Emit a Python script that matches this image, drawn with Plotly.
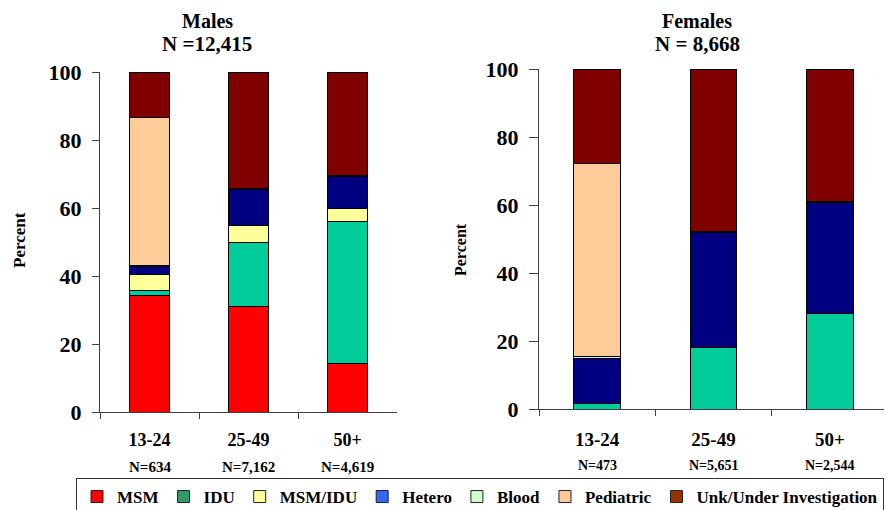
import plotly.graph_objects as go

categories = ["13-24", "25-49", "50+"]
male_n = ["N=634", "N=7,162", "N=4,619"]
female_n = ["N=473", "N=5,651", "N=2,544"]
groups = ["MSM", "IDU", "MSM/IDU", "Hetero", "Blood", "Pediatric", "Unk/Under Investigation"]

male_msm = [34.4, 31.1, 14.4]
male_idu = [1.2, 18.9, 41.5]
male_msm_idu = [4.8, 4.9, 4.1]
male_hetero = [2.5, 10.5, 9.3]
male_blood = [0.3, 0.4, 0.2]
male_pediatric = [43.3, 0.0, 0.0]
male_unk = [13.5, 34.2, 30.5]

female_msm = [0.0, 0.0, 0.0]
female_idu = [1.5, 18.2, 28.2]
female_msm_idu = [0.0, 0.0, 0.0]
female_hetero = [13.5, 33.6, 32.6]
female_blood = [0.4, 0.4, 0.3]
female_pediatric = [56.8, 0.0, 0.0]
female_unk = [27.8, 47.8, 38.9]

bar_colors = ["#FF0000", "#00CC99", "#FFFF99", "#000080", "#CCFFCC", "#FFCC99", "#800000"]
legend_colors = ["#FF0000", "#339966", "#FFFF99", "#3366FF", "#CCFFCC", "#FFCC99", "#993300"]

male_series = [male_msm, male_idu, male_msm_idu, male_hetero, male_blood, male_pediatric, male_unk]
female_series = [female_msm, female_idu, female_msm_idu, female_hetero, female_blood, female_pediatric, female_unk]

FONT = "Liberation Serif"
W, H = 892, 510
OFF = 8  # page body margin offset


def px_x(x):
    return (x - OFF) / W


def px_y(y):
    return 1 - (y - OFF) / H


fig = go.Figure()


def nz(vals):
    return [v if v > 0 else None for v in vals]


for name, vals, col in zip(groups, male_series, bar_colors):
    fig.add_trace(go.Bar(x=categories, y=nz(vals), name=name, marker=dict(color=col, line=dict(color="black", width=1)),
                         width=0.4, showlegend=False, xaxis="x", yaxis="y"))
for name, vals, col in zip(groups, female_series, bar_colors):
    fig.add_trace(go.Bar(x=categories, y=nz(vals), name=name, marker=dict(color=col, line=dict(color="black", width=1)),
                         width=0.4, showlegend=False, xaxis="x2", yaxis="y2"))
# legend entries (legend swatches use their own palette in the reference)
for name, col in zip(groups, legend_colors):
    fig.add_trace(go.Bar(x=[None], y=[None], name=name, marker=dict(color=col, line=dict(color="#222", width=1)),
                         showlegend=True, xaxis="x", yaxis="y"))

axis_common = dict(showline=True, linecolor="#404040", linewidth=1, ticks="outside", tickcolor="#404040",
                   showgrid=False, zeroline=False, automargin=False)

fig.update_layout(
    width=W, height=H,
    margin=dict(l=0, r=0, t=0, b=0, autoexpand=False),
    paper_bgcolor="white", plot_bgcolor="white",
    barmode="stack",
    font=dict(family=FONT, color="black", weight="bold"),
    xaxis=dict(domain=[px_x(100), px_x(397)], anchor="y", type="category", tickson="boundaries", ticklen=6,
               tickfont=dict(size=18, family=FONT, weight="bold"), ticklabelstandoff=11, **axis_common),
    yaxis=dict(domain=[px_y(412), px_y(72)], anchor="x", range=[0, 100], dtick=20, ticklen=7,
               tickfont=dict(size=22, family=FONT, weight="bold"), ticklabelstandoff=6, **axis_common),
    xaxis2=dict(domain=[px_x(539), px_x(888)], anchor="y2", type="category", tickson="boundaries", ticklen=6,
                tickfont=dict(size=19, family=FONT, weight="bold"), ticklabelstandoff=13, **axis_common),
    yaxis2=dict(domain=[px_y(409), px_y(69)], anchor="x2", range=[0, 100], dtick=20, ticklen=9,
                tickfont=dict(size=22, family=FONT, weight="bold"), ticklabelstandoff=6, **axis_common),
    legend=dict(orientation="h", x=px_x(76), y=px_y(478), xanchor="left", yanchor="top",
                bordercolor="#333", borderwidth=1, itemwidth=30, traceorder="normal",
                font=dict(size=17, family=FONT, weight="bold"), tracegroupgap=0),
)

annotations = [
    dict(text="Males", x=px_x(207), y=px_y(21), xref="paper", yref="paper", showarrow=False,
         font=dict(size=20, family=FONT, weight="bold"), xanchor="center", yanchor="middle"),
    dict(text="N =12,415", x=px_x(207), y=px_y(44), xref="paper", yref="paper", showarrow=False,
         font=dict(size=21, family=FONT, weight="bold"), xanchor="center", yanchor="middle"),
    dict(text="Females", x=px_x(697), y=px_y(21), xref="paper", yref="paper", showarrow=False,
         font=dict(size=20, family=FONT, weight="bold"), xanchor="center", yanchor="middle"),
    dict(text="N = 8,668", x=px_x(697), y=px_y(44), xref="paper", yref="paper", showarrow=False,
         font=dict(size=21, family=FONT, weight="bold"), xanchor="center", yanchor="middle"),
    dict(text="Percent", x=px_x(20), y=px_y(240), xref="paper", yref="paper", showarrow=False, textangle=-90,
         font=dict(size=17, family=FONT, weight="bold"), xanchor="center", yanchor="middle"),
    dict(text="Percent", x=px_x(460), y=px_y(250), xref="paper", yref="paper", showarrow=False, textangle=-90,
         font=dict(size=16, family=FONT, weight="bold"), xanchor="center", yanchor="middle"),
]
for c, n in zip(categories, male_n):
    annotations.append(dict(text=n, x=c, xref="x", y=px_y(467), yref="paper", showarrow=False,
                            font=dict(size=15, family=FONT, weight="bold"), xanchor="center", yanchor="middle"))
for c, n in zip(categories, female_n):
    annotations.append(dict(text=n, x=c, xref="x2", y=px_y(465), yref="paper", showarrow=False,
                            font=dict(size=14, family=FONT, weight="bold"), xanchor="center", yanchor="middle"))
fig.update_layout(annotations=annotations)

fig.write_html("out.html")
